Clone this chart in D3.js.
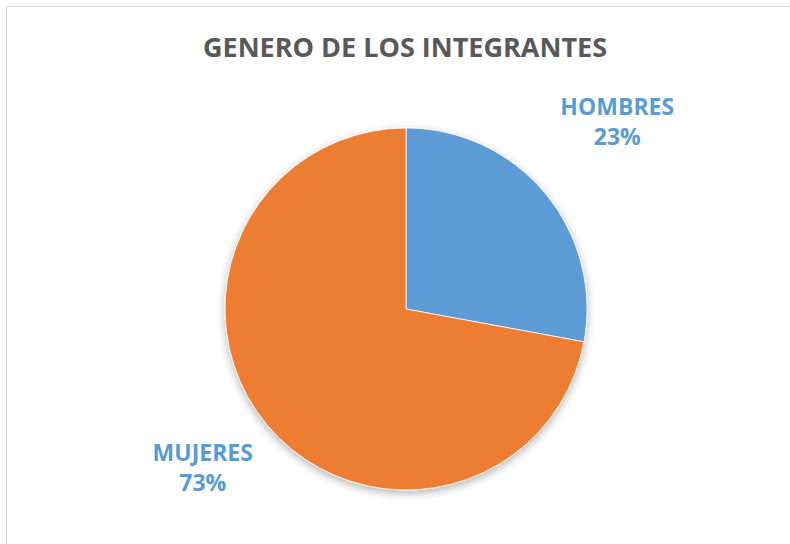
<!DOCTYPE html>
<html><head><meta charset="utf-8">
<script src="https://cdn.jsdelivr.net/npm/d3@7"></script>
<style>html,body{margin:0;padding:0;background:#fff;}svg{display:block;}</style>
</head><body>
<svg id="chart" width="790" height="544"></svg>
<script>
const title = "GENERO DE LOS INTEGRANTES";
const categories = ["HOMBRES", "MUJERES"];
const values = [27.9, 72.1];
const pctLabels = ["23%", "73%"];
const colors = ["#5B9BD5", "#ED7D31"];

const svg = d3.select("#chart");
const W = 790, H = 544;
const font = "'Open Sans', sans-serif";

svg.append("rect").attr("x", 6.5).attr("y", 6.5).attr("width", W).attr("height", H)
  .attr("fill", "#fff").attr("stroke", "#d9d9d9").attr("stroke-width", 1);

const defs = svg.append("defs");
const f = defs.append("filter").attr("id", "sh").attr("x", "-20%").attr("y", "-20%").attr("width", "140%").attr("height", "140%");
f.append("feDropShadow").attr("dx", 0).attr("dy", 3).attr("stdDeviation", 4).attr("flood-color", "#000").attr("flood-opacity", 0.3);

svg.append("text").attr("x", 405).attr("y", 57).attr("text-anchor", "middle")
  .attr("font-family", font).attr("font-weight", "bold").attr("font-size", 27)
  .attr("fill", "#595959").text(title);

const cx = 406, cy = 309, r = 181;
const pie = d3.pie().sort(null).value(d => d)(values);
const arc = d3.arc().innerRadius(0).outerRadius(r);
const g = svg.append("g").attr("transform", `translate(${cx},${cy})`);
const pg = g.append("g").attr("filter", "url(#sh)");
pg.selectAll("path").data(pie).join("path")
  .attr("d", arc).attr("fill", (d, i) => colors[i])
  .attr("stroke", "#fff").attr("stroke-width", 0.8);

const labelArc = d3.arc().innerRadius(r * 1.49).outerRadius(r * 1.49);
const lg = g.selectAll("g.lab").data(pie).join("g").attr("class", "lab")
  .attr("transform", d => { const c = labelArc.centroid(d); return `translate(${c[0] + 4},${c[1]})`; });
lg.append("text").attr("text-anchor", "middle").attr("y", -21)
  .attr("font-family", font).attr("font-weight", "bold").attr("font-size", 23)
  .attr("fill", "#5B9BD5").text((d, i) => categories[i]);
lg.append("text").attr("text-anchor", "middle").attr("y", 9)
  .attr("font-family", font).attr("font-weight", "bold").attr("font-size", 23)
  .attr("fill", "#5B9BD5").text((d, i) => pctLabels[i]);
</script>
</body></html>
